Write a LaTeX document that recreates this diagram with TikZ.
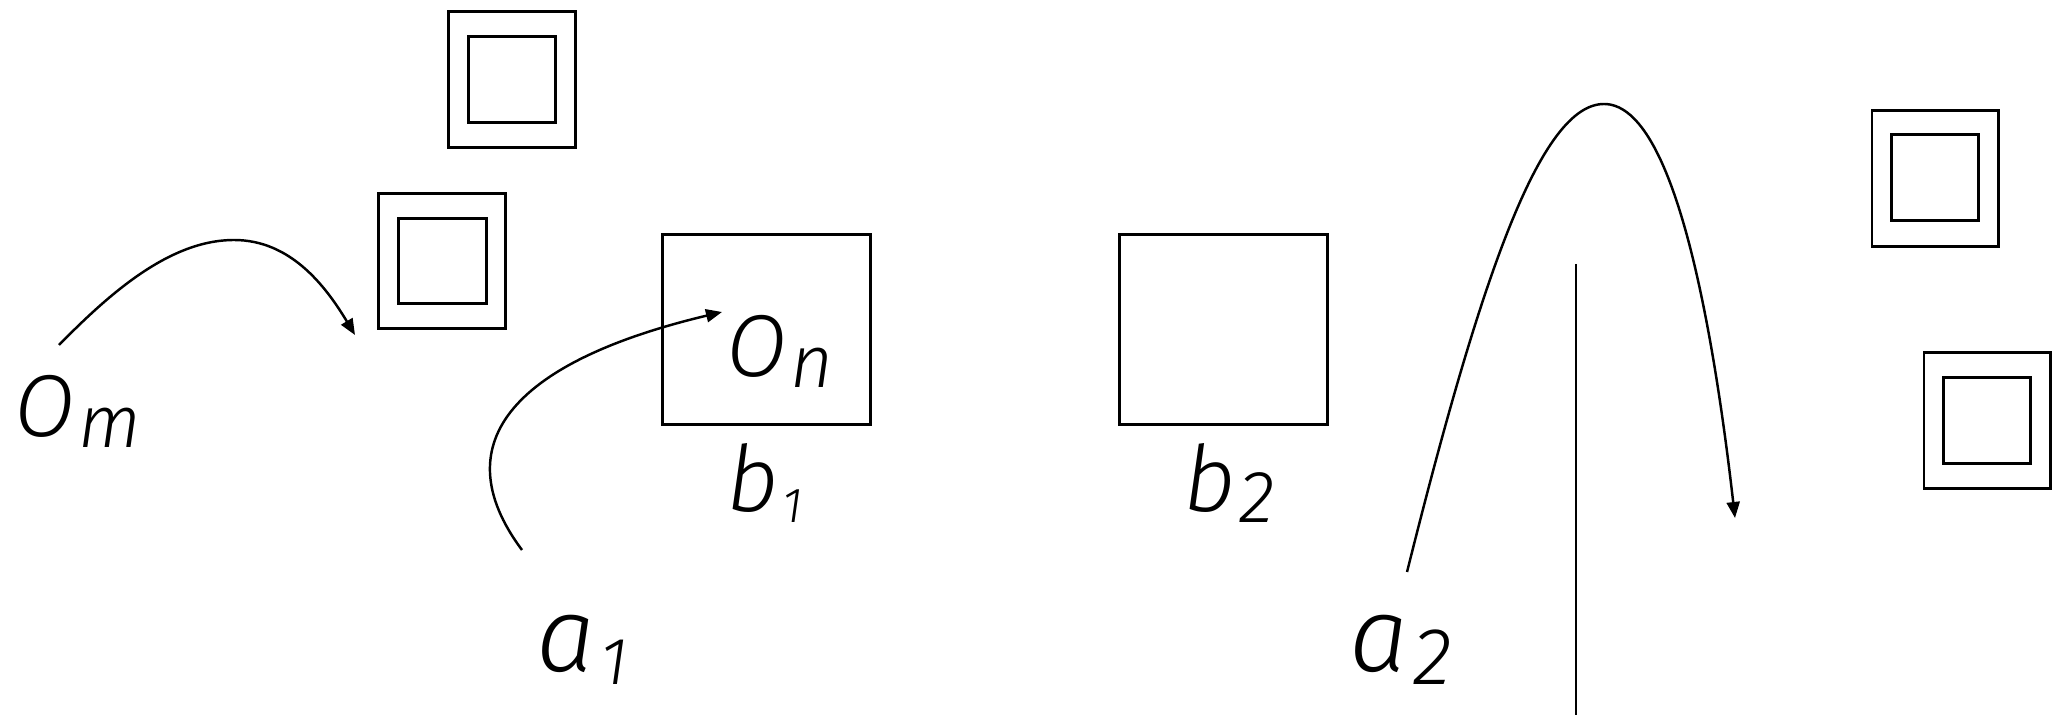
\documentclass[tikz,border=0pt]{standalone}
\usepackage{fontspec}
\setmainfont{Fira Sans Light}[ItalicFont={Fira Sans Light Italic}]
\usetikzlibrary{arrows.meta}
\newcommand{\mylbl}[4]{\fontsize{#3}{#3}\selectfont\itshape #1\hspace{0.04em}\raisebox{-0.12em}{\fontsize{#4}{#4}\selectfont #2}}
\begin{document}
\begin{tikzpicture}[x=0.01cm,y=-0.01cm,
  boxline/.style={draw, line width=0.85pt, inner sep=0pt},
  bigbox/.style={boxline, minimum width=2.07cm, minimum height=1.89cm},
  outsq/.style={boxline, minimum width=1.26cm, minimum height=1.35cm},
  insq/.style={boxline, minimum width=0.87cm, minimum height=0.85cm},
  curve/.style={line width=0.7pt, -{Triangle[length=1.6mm,width=1.3mm]}},
  lbl/.style={inner sep=0pt, anchor=base west}]
\useasboundingbox (0,0) rectangle (2058,719);
% double squares
\node[outsq] (s1) at (512,79.5) {};
\node[insq] (s1i) at (512,79.5) {};
\node[outsq] (s2) at (442,261) {};
\node[insq] (s2i) at (442.5,261) {};
\node[outsq] (s3) at (1935,178.5) {};
\node[insq] (s3i) at (1934.5,177.5) {};
\node[outsq] (s4) at (1987,420.5) {};
\node[insq] (s4i) at (1987,420.5) {};
% boxes
\node[bigbox] (b1box) at (766.5,329.5) {};
\node[bigbox] (b2box) at (1223.5,329.5) {};
% labels
\node[lbl] (om) at (14,437) {\mylbl{O}{m}{25pt}{21pt}};
\node[lbl] (on) at (726,377) {\mylbl{O}{n}{25pt}{21pt}};
\node[lbl] (b1) at (726,512) {\mylbl{b}{1}{26pt}{14pt}};
\node[lbl] (b2) at (1183,512) {\mylbl{b}{2}{26pt}{21pt}};
\node[lbl] (a1) at (536,672) {\mylbl{a}{1}{30pt}{19pt}};
\node[lbl] (a2) at (1349,672) {\mylbl{a}{2}{30pt}{23pt}};
% vertical line
\coordinate (vt) at (1576,264);
\coordinate (vb) at (1576,715);
\draw[line width=0.7pt] (vt) -- (vb);
% curves
\coordinate (c1s) at (59,345);
\coordinate (c1p) at (234,240);
\coordinate (c1e) at (355,335);
\draw[curve] (c1s) .. controls (110,293) and (170,240) .. (c1p)
  .. controls (290,240) and (325,285) .. (c1e);
\coordinate (c2s) at (522,550);
\coordinate (c2e) at (722,312);
\draw[curve] (c2s) .. controls (440,440) and (520,360) .. (c2e);
\coordinate (c3s) at (1407,572);
\coordinate (c3p) at (1604,104);
\coordinate (c3e) at (1735,518);
\draw[curve] (c3s) .. controls (1480,280) and (1540,104) .. (c3p)
  .. controls (1670,104) and (1710,300) .. (c3e);
\end{tikzpicture}
\end{document}
